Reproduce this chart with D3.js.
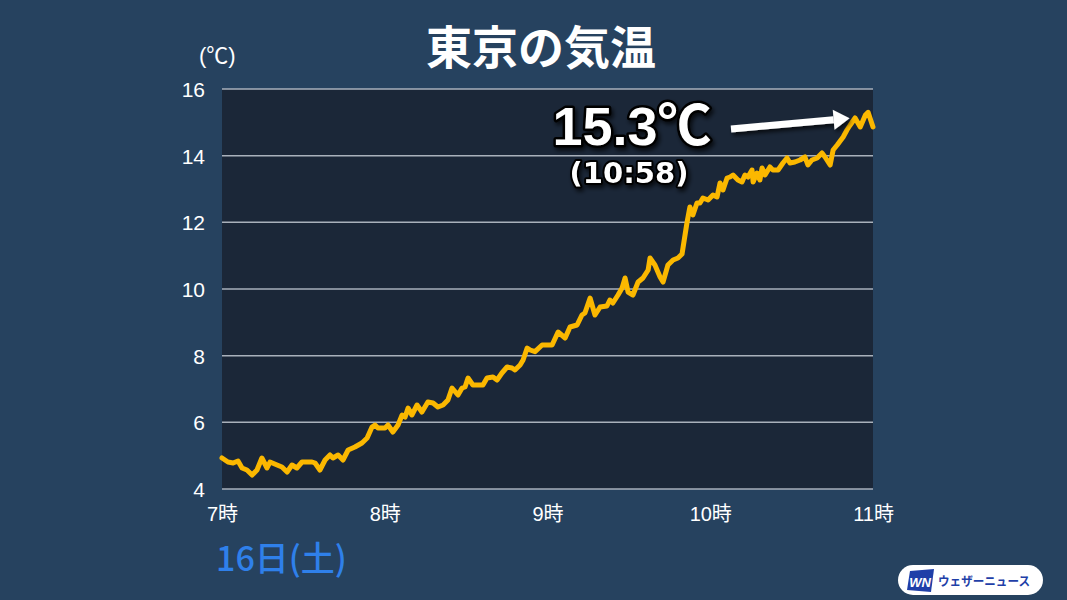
<!DOCTYPE html>
<html><head><meta charset="utf-8">
<script src="https://cdn.jsdelivr.net/npm/d3@7"></script>
<style>
html,body{margin:0;padding:0;background:#26425f;}
svg{display:block;}
</style></head>
<body>
<svg id="chart" width="1067" height="600"></svg>
<script>
// minutes after 7:00
const minutes = [0,2.2,4.1,5.9,7.4,9.2,11.1,12.9,14.7,16.6,17.7,20.3,22.1,24.0,25.8,27.6,29.5,33.2,34.3,36.1,38.0,39.8,40.9,42.8,44.6,46.5,49.0,51.6,53.5,55.3,56.4,57.5,60.1,61.2,63.0,64.9,66.4,67.5,68.6,70.0,71.9,73.7,75.9,77.8,79.6,81.5,83.3,84.8,87.0,88.5,89.6,90.7,92.5,96.2,97.7,99.9,101.4,103.2,105.1,106.9,108.0,109.9,111.0,112.5,113.6,115.4,118.0,121.7,123.9,126.5,128.3,130.9,132.7,133.8,135.7,137.5,139.4,141.9,143.0,144.1,146.0,147.5,148.6,149.7,151.5,153.4,155.2,157.1,157.8,159.6,161.5,162.6,164.4,166.3,168.1,169.6,171.4,172.5,173.6,175.1,176.2,177.3,179.2,181.0,182.5,183.6,184.7,186.2,187.3,188.4,190.2,191.7,192.8,193.9,195.4,195.8,197.2,198.3,199.1,200.2,202.0,203.1,205.0,206.8,208.3,209.4,211.2,213.1,214.9,216.0,217.5,219.4,221.2,222.3,224.2,225.3,226.8,229.0,230.4,231.6,233.4,235.3,237.2,238.2,240.0];
const temps = [4.93,4.81,4.78,4.84,4.63,4.57,4.42,4.57,4.93,4.63,4.81,4.72,4.66,4.51,4.72,4.63,4.81,4.81,4.78,4.57,4.87,5.02,4.93,5.02,4.87,5.17,5.26,5.38,5.53,5.86,5.92,5.83,5.83,5.92,5.71,5.92,6.22,6.16,6.43,6.22,6.52,6.31,6.61,6.58,6.46,6.52,6.67,7.03,6.82,7.03,7.06,7.33,7.12,7.12,7.33,7.36,7.27,7.48,7.66,7.63,7.57,7.72,7.87,8.23,8.17,8.12,8.32,8.32,8.71,8.53,8.86,8.92,9.22,9.28,9.73,9.22,9.46,9.49,9.67,9.58,9.82,10.03,10.33,9.91,9.82,10.21,10.33,10.57,10.93,10.72,10.36,10.21,10.72,10.87,10.93,11.05,11.98,12.46,12.22,12.58,12.58,12.73,12.67,12.82,12.76,13.18,12.97,13.33,13.36,13.42,13.27,13.21,13.42,13.36,13.57,13.21,13.48,13.27,13.63,13.42,13.66,13.57,13.57,13.78,13.93,13.78,13.81,13.87,13.96,13.72,13.87,13.93,14.08,13.96,13.72,14.17,14.32,14.56,14.77,14.92,15.13,14.86,15.22,15.30,14.86];
const yTicks = [4,6,8,10,12,14,16];
const xTicks = [0,60,120,180,240];
const xTickLabels = ["7時","8時","9時","10時","11時"];
const title = "東京の気温";
const unitLabel = "(℃)";
const dateLabel = "16日(土)";
const peakValue = "15.3℃";
const peakTime = "(10:58)";
const peakMinute = 238;
const peakTemp = 15.3;
const brand = "ウェザーニュース";

const svg = d3.select("#chart");
const L = 222, R = 873, T = 89, B = 489;
const x = d3.scaleLinear().domain([0,240]).range([L,R]);
const y = d3.scaleLinear().domain([4,16]).range([B,T]);
const JP = "'Noto Sans CJK JP','Liberation Sans',sans-serif";
const NUM = "'Liberation Sans','Noto Sans CJK JP',sans-serif";
const WIDE = "'DejaVu Sans','Liberation Sans',sans-serif";

svg.append("rect").attr("width",1067).attr("height",600).attr("fill","#26425f");

const defs = svg.append("defs");
const f = defs.append("filter").attr("id","shadow").attr("x","-20%").attr("y","-40%").attr("width","140%").attr("height","180%");
f.append("feDropShadow").attr("dx",2).attr("dy",3).attr("stdDeviation",2).attr("flood-color","#000").attr("flood-opacity",0.7);

// plot background
svg.append("rect").attr("x",L).attr("y",T).attr("width",R-L).attr("height",B-T).attr("fill","#1b2738");

// grid
svg.append("g").selectAll("line").data(yTicks).join("line")
  .attr("x1",L).attr("x2",R).attr("y1",d=>y(d)).attr("y2",d=>y(d))
  .attr("stroke","#a9b1bb").attr("stroke-width",1.5);

// y axis labels
const yAxis = d3.axisLeft(y).tickValues(yTicks).tickSize(0).tickPadding(17).tickFormat(d3.format("d"));
const gy = svg.append("g").attr("transform",`translate(${L},0)`).call(yAxis);
gy.select(".domain").remove();
gy.selectAll("text").attr("fill","#fff").attr("font-family",NUM).attr("font-size",21).attr("dy","0.36em");

// x axis labels
const xAxis = d3.axisBottom(x).tickValues(xTicks).tickSize(0).tickPadding(18).tickFormat((d,i)=>xTickLabels[i]);
const gx = svg.append("g").attr("transform",`translate(0,${B})`).call(xAxis);
gx.select(".domain").remove();
gx.selectAll("text").attr("fill","#fff").attr("font-family",NUM).attr("font-size",20);

// line
const data = minutes.map((m,i)=>({m, t:temps[i]}));
svg.append("path").datum(data)
  .attr("d", d3.line().x(d=>x(d.m)).y(d=>y(d.t)))
  .attr("fill","none").attr("stroke","#fbb800").attr("stroke-width",5)
  .attr("stroke-linejoin","round").attr("stroke-linecap","round");

// title
svg.append("text").attr("x",541).attr("y",64).attr("text-anchor","middle")
  .attr("font-family",JP).attr("font-weight",700).attr("font-size",46).attr("fill","#fff").text(title);
svg.append("text").attr("x",199).attr("y",63)
  .attr("font-family",NUM).attr("font-size",22).attr("fill","#fff").text(unitLabel);

// date
svg.append("text").attr("x",216).attr("y",571)
  .attr("font-family",JP).attr("font-weight",500).attr("font-size",34).attr("fill","#2f80ea").text(dateLabel);

// annotation
const ann = svg.append("g").attr("filter","url(#shadow)");
ann.append("text").attr("x",632).attr("y",145).attr("text-anchor","middle")
  .attr("font-family",NUM).attr("font-weight",700).attr("font-size",54)
  .attr("fill","#fff").attr("stroke","#000").attr("stroke-width",5).attr("paint-order","stroke")
  .attr("stroke-linejoin","round").text(peakValue);
ann.append("text").attr("x",629).attr("y",183).attr("text-anchor","middle")
  .attr("font-family",WIDE).attr("font-weight",700).attr("font-size",29)
  .attr("fill","#fff").attr("stroke","#000").attr("stroke-width",4).attr("paint-order","stroke")
  .attr("stroke-linejoin","round").text(peakTime);

// arrow pointing at peak
const px = x(peakMinute)-18, py = y(peakTemp)+6;
const sx = 731, sy = 129;
const ang = Math.atan2(py-sy, px-sx);
const hx = px - Math.cos(ang)*16, hy = py - Math.sin(ang)*16;
const arr = svg.append("g").attr("filter","url(#shadow)");
arr.append("line").attr("x1",sx).attr("y1",sy).attr("x2",hx).attr("y2",hy)
  .attr("stroke","#fff").attr("stroke-width",7);
const nx = -Math.sin(ang), ny = Math.cos(ang);
arr.append("path").attr("d",`M${px},${py} L${hx+nx*10},${hy+ny*10} L${hx-nx*10},${hy-ny*10} Z`).attr("fill","#fff");

// logo
const lg = svg.append("g");
lg.append("rect").attr("x",898).attr("y",565).attr("width",145).attr("height",30).attr("rx",15).attr("fill","#fff");
lg.append("path").attr("d","M910,571 L934,569 L931,592 L907,590 Z").attr("fill","#1f3fa8");
lg.append("text").attr("x",920).attr("y",587).attr("text-anchor","middle").attr("font-family",NUM)
  .attr("font-weight",700).attr("font-style","italic").attr("font-size",13).attr("fill","#fff").text("WN");
lg.append("text").attr("x",938).attr("y",586).attr("font-family",JP).attr("font-weight",700)
  .attr("font-size",12.5).attr("textLength",92).attr("lengthAdjust","spacingAndGlyphs")
  .attr("fill","#1f3fa8").text(brand);
</script>
</body></html>
